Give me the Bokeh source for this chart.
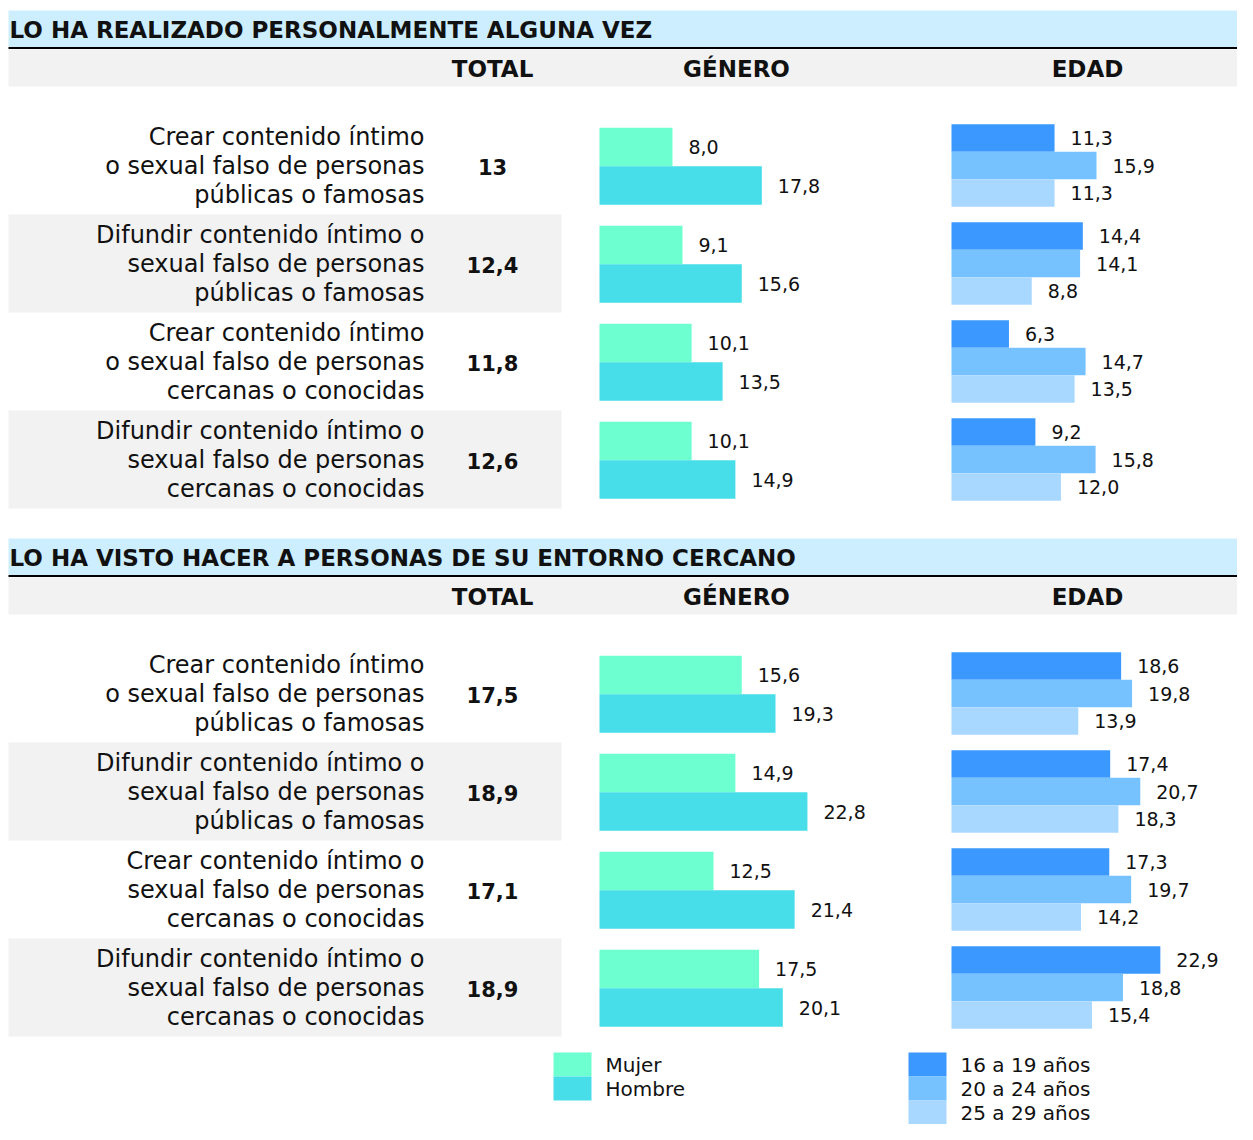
from bokeh.plotting import figure
from bokeh.models import Range1d, ColumnDataSource
from bokeh.core.properties import value
from bokeh.embed import file_html
from bokeh.resources import INLINE

# ---------------- data ----------------
sections = ["LO HA REALIZADO PERSONALMENTE ALGUNA VEZ",
            "LO HA VISTO HACER A PERSONAS DE SU ENTORNO CERCANO"]
col_headers = ["TOTAL", "GÉNERO", "EDAD"]

labels_s1 = [
    ["Crear contenido íntimo", "o sexual falso de personas", "públicas o famosas"],
    ["Difundir contenido íntimo o", "sexual falso de personas", "públicas o famosas"],
    ["Crear contenido íntimo", "o sexual falso de personas", "cercanas o conocidas"],
    ["Difundir contenido íntimo o", "sexual falso de personas", "cercanas o conocidas"],
]
labels_s2 = [
    ["Crear contenido íntimo", "o sexual falso de personas", "públicas o famosas"],
    ["Difundir contenido íntimo o", "sexual falso de personas", "públicas o famosas"],
    ["Crear contenido íntimo o", "sexual falso de personas", "cercanas o conocidas"],
    ["Difundir contenido íntimo o", "sexual falso de personas", "cercanas o conocidas"],
]

total_s1 = [13, 12.4, 11.8, 12.6]
mujer_s1 = [8.0, 9.1, 10.1, 10.1]
hombre_s1 = [17.8, 15.6, 13.5, 14.9]
age16_s1 = [11.3, 14.4, 6.3, 9.2]
age20_s1 = [15.9, 14.1, 14.7, 15.8]
age25_s1 = [11.3, 8.8, 13.5, 12.0]

total_s2 = [17.5, 18.9, 17.1, 18.9]
mujer_s2 = [15.6, 14.9, 12.5, 17.5]
hombre_s2 = [19.3, 22.8, 21.4, 20.1]
age16_s2 = [18.6, 17.4, 17.3, 22.9]
age20_s2 = [19.8, 20.7, 19.7, 18.8]
age25_s2 = [13.9, 18.3, 14.2, 15.4]

gender_names = ["Mujer", "Hombre"]
age_names = ["16 a 19 años", "20 a 24 años", "25 a 29 años"]

# ---------------- style ----------------
FONT = "DejaVu Sans"
TXT = "#111111"
C_MUJER = "#6EFFD0"
C_HOMBRE = "#48DEE9"
C_AGE = ["#3A98FF", "#76C1FF", "#A8D8FF"]
C_TITLE = "#CCEEFF"
C_GRAY = "#F2F2F2"

W, H = 1237, 1124
K = 9.12  # pixels per percentage point
GEN0 = 599
AGE0 = 951

def fmt(v):
    return f"{v:.1f}".replace(".", ",")

def fmt_total(v):
    return (f"{v:g}").replace(".", ",")

p = figure(width=W, height=H, x_range=Range1d(0, W), y_range=Range1d(H, 0),
           output_backend="svg", toolbar_location=None, min_border=0)
p.axis.visible = False
p.grid.visible = False
p.outline_line_color = None
p.background_fill_color = "white"
p.border_fill_color = "white"

p.extra_x_ranges = {
    "gen": Range1d(-GEN0 / K, (W - GEN0) / K),
    "age": Range1d(-AGE0 / K, (W - AGE0) / K),
}

data_sets = [
    (labels_s1, total_s1, mujer_s1, hombre_s1, [age16_s1, age20_s1, age25_s1]),
    (labels_s2, total_s2, mujer_s2, hombre_s2, [age16_s2, age20_s2, age25_s2]),
]

SEC_OFF = 528
ROW_H = 98
LEFT = 8

for s, (labels, totals, mujer, hombre, ages) in enumerate(data_sets):
    off = s * SEC_OFF
    # title band
    p.quad(left=LEFT, right=W, top=10 + off, bottom=47 + off, color=C_TITLE, line_color=None)
    p.segment(x0=LEFT, y0=47.5 + off, x1=W, y1=47.5 + off, line_color="black", line_width=2)
    p.quad(left=LEFT, right=W, top=49 + off, bottom=86 + off, color=C_GRAY, line_color=None)
    p.text(x=[9], y=[29.5 + off], text=[sections[s]], text_font=value(FONT),
           text_font_style="bold", text_font_size="23px", text_baseline="middle",
           text_align="left", text_color=TXT)
    p.text(x=[492, 736, 1087], y=[68.5 + off] * 3, text=col_headers, text_font=value(FONT),
           text_font_style="bold", text_font_size="23px", text_baseline="middle",
           text_align="center", text_color=TXT)

    n = len(labels)
    centers = [165 + off + ROW_H * i for i in range(n)]
    # alternate row bands
    for i in range(n):
        if i % 2 == 1:
            p.quad(left=LEFT, right=561, top=centers[i] - 49, bottom=centers[i] + 49,
                   color=C_GRAY, line_color=None)
    # row labels
    lx, ly, lt = [], [], []
    for i in range(n):
        for j, line in enumerate(labels[i]):
            lx.append(424)
            ly.append(centers[i] + (j - 1) * 29)
            lt.append(line)
    p.text(x=lx, y=ly, text=lt, text_font=value(FONT), text_font_size="24px",
           text_baseline="middle", text_align="right", text_color=TXT)
    # totals
    p.text(x=[492] * n, y=[c + 1 for c in centers], text=[fmt_total(v) for v in totals],
           text_font=value(FONT), text_font_style="bold", text_font_size="21px",
           text_baseline="middle", text_align="center", text_color=TXT)

    # gender bars
    for vals, dy, col in [(mujer, -18.5, C_MUJER), (hombre, 20, C_HOMBRE)]:
        src = ColumnDataSource(dict(y=[c + dy for c in centers], v=vals,
                                    lab=[fmt(v) for v in vals]))
        p.hbar(y="y", left=0, right="v", height=38.5, source=src, color=col,
               line_color=None, x_range_name="gen")
        p.text(x="v", y="y", text="lab", source=src, x_range_name="gen", x_offset=16,
               text_font=value(FONT), text_font_size="19px", text_baseline="middle",
               text_align="left", text_color=TXT)
    # age bars
    for vals, dy, col in zip(ages, [-27.5, 0, 27.5], C_AGE):
        src = ColumnDataSource(dict(y=[c + dy for c in centers], v=vals,
                                    lab=[fmt(v) for v in vals]))
        p.hbar(y="y", left=0, right="v", height=27.5, source=src, color=col,
               line_color=None, x_range_name="age")
        p.text(x="v", y="y", text="lab", source=src, x_range_name="age", x_offset=16,
               text_font=value(FONT), text_font_size="19px", text_baseline="middle",
               text_align="left", text_color=TXT)

# legend
leg_y = [1064, 1088, 1112]
for name, col, yy in zip(gender_names, [C_MUJER, C_HOMBRE], leg_y):
    p.quad(left=553, right=591, top=yy - 12, bottom=yy + 12, color=col, line_color=None)
    p.text(x=[605], y=[yy], text=[name], text_font=value(FONT), text_font_size="20px",
           text_baseline="middle", text_align="left", text_color=TXT)
for name, col, yy in zip(age_names, C_AGE, leg_y):
    p.quad(left=908, right=946, top=yy - 12, bottom=yy + 12, color=col, line_color=None)
    p.text(x=[960], y=[yy], text=[name], text_font=value(FONT), text_font_size="20px",
           text_baseline="middle", text_align="left", text_color=TXT)

open("out.html", "w").write(file_html(p, INLINE))
